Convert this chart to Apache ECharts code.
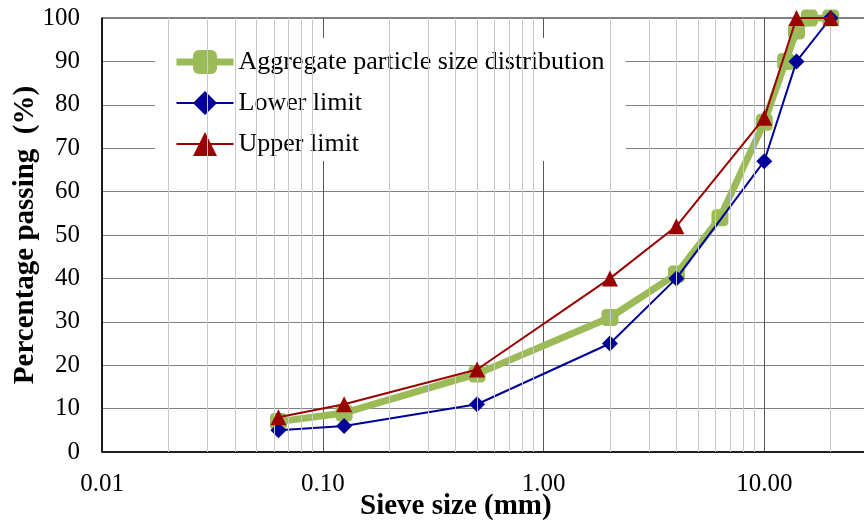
<!DOCTYPE html>
<html>
<head>
<meta charset="utf-8">
<script src="https://cdn.jsdelivr.net/npm/echarts@6/dist/echarts.min.js"></script>
<style>
html,body{margin:0;padding:0;background:#fff;}
#c{width:864px;height:524px;}
</style>
</head>
<body>
<div id="c"></div>
<script>
// ---- data ----
var aggSizes   = [0.063, 0.125, 0.5, 2, 4, 6.3, 10, 12.5, 14, 16, 20];
var aggPassing = [7, 9, 18, 31, 41, 54, 76, 90, 97, 100, 100];
var limitSizes = [0.063, 0.125, 0.5, 2, 4, 10, 14, 20];
var lowerLimit = [5, 6, 11, 25, 40, 67, 90, 100];
var upperLimit = [8, 11, 19, 40, 52, 77, 100, 100];
var seriesNames = ['Aggregate particle size distribution', 'Lower limit', 'Upper limit'];
var xDecades = [0.01, 0.1, 1, 10];
var minorMultipliers = [2, 3, 4, 5, 6, 7, 8, 9];

function pairs(xs, ys) { return xs.map(function (x, i) { return [x, ys[i]]; }); }
var minorLines = [];
xDecades.forEach(function (d) {
  minorMultipliers.forEach(function (m) { minorLines.push({ xAxis: +(d * m).toPrecision(3) }); });
});

var FONT = 'Liberation Serif';
var chart = echarts.init(document.getElementById('c'), null, { renderer: 'canvas' });
chart.setOption({
  animation: false,
  backgroundColor: '#fff',
  textStyle: { fontFamily: FONT },
  grid: { left: 102, top: 18, height: 434, width: 883, containLabel: false, outerBoundsMode: 'none',
    show: true, borderColor: '#000', borderWidth: 1 },
  xAxis: {
    type: 'log', logBase: 10, min: 0.01, max: 100,
    axisLine: { show: true, lineStyle: { color: '#000', width: 1.5 } },
    axisTick: { show: false },
    axisLabel: { fontFamily: FONT, fontSize: 25, color: '#000', margin: 20,
      formatter: function (v) { return (+v).toFixed(2); } },
    splitLine: { show: true, lineStyle: { color: '#5a5a5a', width: 1 } },
    minorTick: { show: false }, minorSplitLine: { show: false }
  },
  yAxis: {
    type: 'value', min: 0, max: 100, interval: 10,
    name: 'Percentage passing  (%)', nameLocation: 'middle', nameGap: 62, nameMoveOverlap: false,
    nameTextStyle: { fontFamily: FONT, fontSize: 29, fontWeight: 'bold', color: '#000' },
    axisLine: { show: true, lineStyle: { color: '#000', width: 1.5 } },
    axisTick: { show: false },
    axisLabel: { fontFamily: FONT, fontSize: 25, color: '#000', margin: 22 },
    splitLine: { show: true, lineStyle: { color: '#808080', width: 1 } }
  },
  legend: {
    data: [
      { name: seriesNames[0], lineStyle: { width: 7 } },
      { name: seriesNames[1], lineStyle: { width: 2 } },
      { name: seriesNames[2], lineStyle: { width: 2 } }
    ],
    orient: 'vertical', left: 155, top: 38,
    backgroundColor: '#fff',
    padding: [10, 21, 3, 18],
    itemWidth: 57, itemHeight: 30, itemGap: 13,
    textStyle: { fontFamily: FONT, fontSize: 26, color: '#000', lineHeight: 28 }
  },
  graphic: [{
    type: 'text', left: 360, top: 492,
    style: { text: 'Sieve size (mm)', fontFamily: FONT, fontSize: 29, fontWeight: 'bold', fill: '#000' }
  }],
  series: [
    {
      name: 'gridMinor', type: 'line', data: [], z: 1, silent: true,
      markLine: { silent: true, symbol: 'none', label: { show: false },
        lineStyle: { color: '#c8c8c8', width: 1, type: 'solid' }, data: minorLines }
    },
    {
      name: seriesNames[0], type: 'line', data: pairs(aggSizes, aggPassing), z: 3,
      symbol: 'roundRect', symbolSize: 17,
      lineStyle: { color: '#9bbb59', width: 7 }, itemStyle: { color: '#9bbb59' }
    },
    {
      name: seriesNames[1], type: 'line', data: pairs(limitSizes, lowerLimit), z: 4,
      symbol: 'diamond', symbolSize: 16,
      lineStyle: { color: '#000099', width: 2 }, itemStyle: { color: '#000099' }
    },
    {
      name: seriesNames[2], type: 'line', data: pairs(limitSizes, upperLimit), z: 5,
      symbol: 'triangle', symbolSize: 16,
      lineStyle: { color: '#990000', width: 2 }, itemStyle: { color: '#990000' }
    }
  ]
});
</script>
</body>
</html>
